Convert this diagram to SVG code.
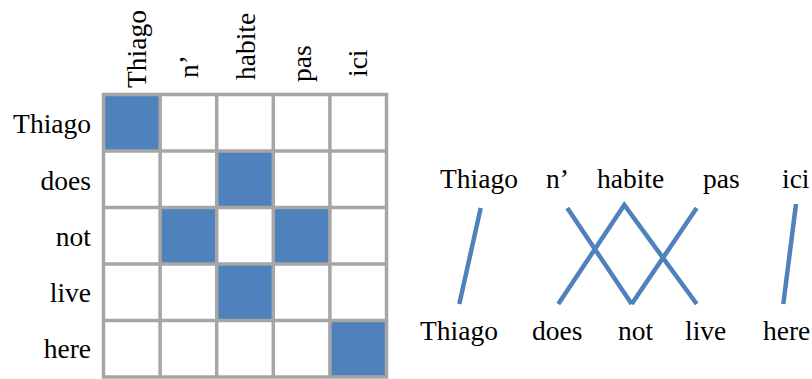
<svg xmlns="http://www.w3.org/2000/svg" width="812" height="379" viewBox="0 0 812 379">
<style>
text{font-family:'Times New Roman','Liberation Serif',Tinos,'DejaVu Serif',serif;font-size:27.5px;fill:#000}
.r{text-anchor:end}
.cell{fill:#4F81BD}
.grid{stroke:#A6A6A6;stroke-width:3.5;fill:none}
.link{stroke:#4F81BD;stroke-width:4.5;fill:none}
</style>
<rect width="812" height="379" fill="#fff"/>
<g id="matrix">
<rect class="cell" x="103.5" y="94.5" width="56.6" height="56.5"/>
<rect class="cell" x="216.7" y="151" width="56.6" height="56.5"/>
<rect class="cell" x="160.1" y="207.5" width="56.6" height="56.5"/>
<rect class="cell" x="273.3" y="207.5" width="56.6" height="56.5"/>
<rect class="cell" x="216.7" y="264" width="56.6" height="56.5"/>
<rect class="cell" x="329.9" y="320.5" width="56.6" height="56.5"/>
<path class="grid" d="M103.5 94.5V377M160.1 94.5V377M216.7 94.5V377M273.3 94.5V377M329.9 94.5V377M386.5 94.5V377M101.75 94.5H388.25M101.75 151H388.25M101.75 207.5H388.25M101.75 264H388.25M101.75 320.5H388.25M101.75 377H388.25"/>
</g>
<g id="row-labels">
<text class="r" x="91" y="133">Thiago</text>
<text class="r" x="91" y="190">does</text>
<text class="r" x="91" y="246">not</text>
<text class="r" x="91" y="302">live</text>
<text class="r" x="91" y="358">here</text>
</g>
<g id="col-labels">
<text transform="translate(146,88) rotate(-90)">Thiago</text>
<text transform="translate(198,78) rotate(-90)">n’</text>
<text transform="translate(255,80) rotate(-90)">habite</text>
<text transform="translate(311,82) rotate(-90)">pas</text>
<text transform="translate(367,77) rotate(-90)">ici</text>
</g>
<g id="french">
<text id="fr-thiago" x="440" y="188">Thiago</text>
<text id="fr-n" x="546" y="188">n’</text>
<text id="fr-habite" x="597" y="188">habite</text>
<text id="fr-pas" x="703" y="188">pas</text>
<text id="fr-ici" x="782" y="188">ici</text>
</g>
<g id="english">
<text id="en-thiago" x="420" y="340">Thiago</text>
<text id="en-does" x="532" y="340">does</text>
<text id="en-not" x="618" y="340">not</text>
<text id="en-live" x="685" y="340">live</text>
<text id="en-here" x="763" y="340">here</text>
</g>
<g id="connectors">
<line class="link" x1="480.7" y1="208" x2="459.3" y2="304"/>
<line class="link" x1="567.3" y1="208" x2="631.7" y2="304"/>
<polyline class="link" points="558.3,304 624.3,205 696.7,304"/>
<line class="link" x1="696.7" y1="208" x2="631.7" y2="304"/>
<line class="link" x1="796" y1="204" x2="783.3" y2="304"/>
</g>
</svg>
